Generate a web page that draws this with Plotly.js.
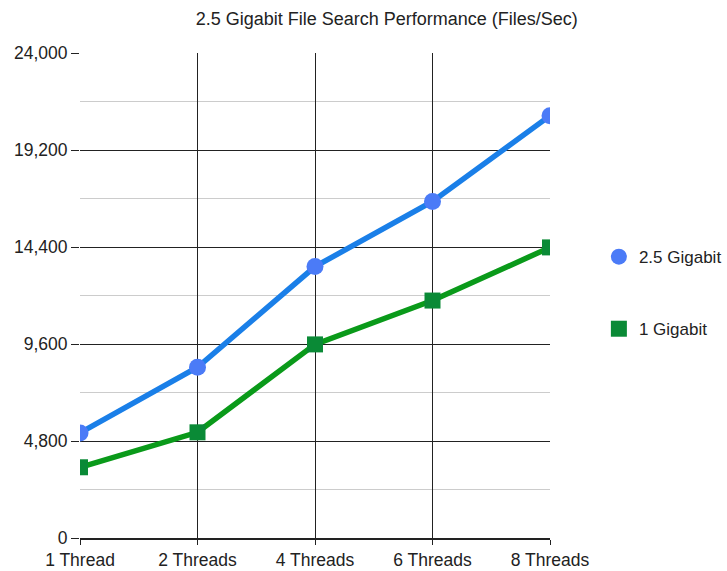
<!DOCTYPE html>
<html><head><meta charset="utf-8">
<script src="https://cdn.plot.ly/plotly-3.0.1.min.js"></script>
<style>html,body{margin:0;padding:0;background:#fff}#chart{width:727px;height:571px}</style>
</head><body><div id="chart"></div>
<script>
const categories = ["1 Thread", "2 Threads", "4 Threads", "6 Threads", "8 Threads"];
const gigabit25 = [5200, 8450, 13430, 16650, 20900];
const gigabit1 = [3500, 5230, 9580, 11750, 14380];
const yTicks = [0, 4800, 9600, 14400, 19200, 24000];

const font = "Liberation Sans, Arial, sans-serif";
const traces = [
  {x: categories, y: gigabit25, mode: "lines", line: {color: "#1a7fe8", width: 5.5}, showlegend: false, hoverinfo: "skip"},
  {x: categories, y: gigabit1, mode: "lines", line: {color: "#0a9a1a", width: 5.5}, showlegend: false, hoverinfo: "skip"},
  {x: categories, y: gigabit25, mode: "markers", name: "2.5 Gigabit", legendgroup: "a",
   marker: {symbol: "circle", size: 17, color: "#4b7bf7"}},
  {x: categories, y: gigabit1, mode: "markers", name: "1 Gigabit", legendgroup: "b",
   marker: {symbol: "square", size: 16, color: "#0a8a36"}}
];
const layout = {
  width: 727, height: 571,
  margin: {l: 80, r: 177, t: 53, b: 33, pad: 0, autoexpand: false},
  paper_bgcolor: "#fff", plot_bgcolor: "#fff",
  font: {family: font, color: "#222", size: 17.5},
  title: {text: "2.5 Gigabit File Search Performance (Files/Sec)", font: {family: font, size: 18, color: "#222"},
          x: 0.532, xref: "container", xanchor: "center", y: 0.968, yref: "container", yanchor: "middle"},
  xaxis: {type: "category", range: [0, 4], showgrid: true, gridcolor: "#222", gridwidth: 1,
          ticks: "outside", ticklen: 5, tickcolor: "#222", zeroline: false, automargin: false,
          showline: true, linecolor: "#222", linewidth: 1.5, tickfont: {size: 17.5, family: font, color: "#222"}},
  yaxis: {range: [0, 24000], tickvals: yTicks, tickformat: ",d", showgrid: true, gridcolor: "#222", gridwidth: 1,
          ticks: "outside", ticklen: 8, tickcolor: "#222", zeroline: false, showline: false, automargin: false,
          minor: {dtick: 2400, tick0: 0, showgrid: true, gridcolor: "#cccccc", gridwidth: 1},
          tickfont: {size: 17.5, family: font, color: "#222"}},
  legend: {x: 1.104, xanchor: "left", y: 0.505, yanchor: "middle", tracegroupgap: 47,
           font: {size: 17, family: font, color: "#222"}, bgcolor: "rgba(0,0,0,0)", itemwidth: 30},
  showlegend: true
};
Plotly.newPlot("chart", traces, layout, {displayModeBar: false, staticPlot: true});
</script></body></html>
